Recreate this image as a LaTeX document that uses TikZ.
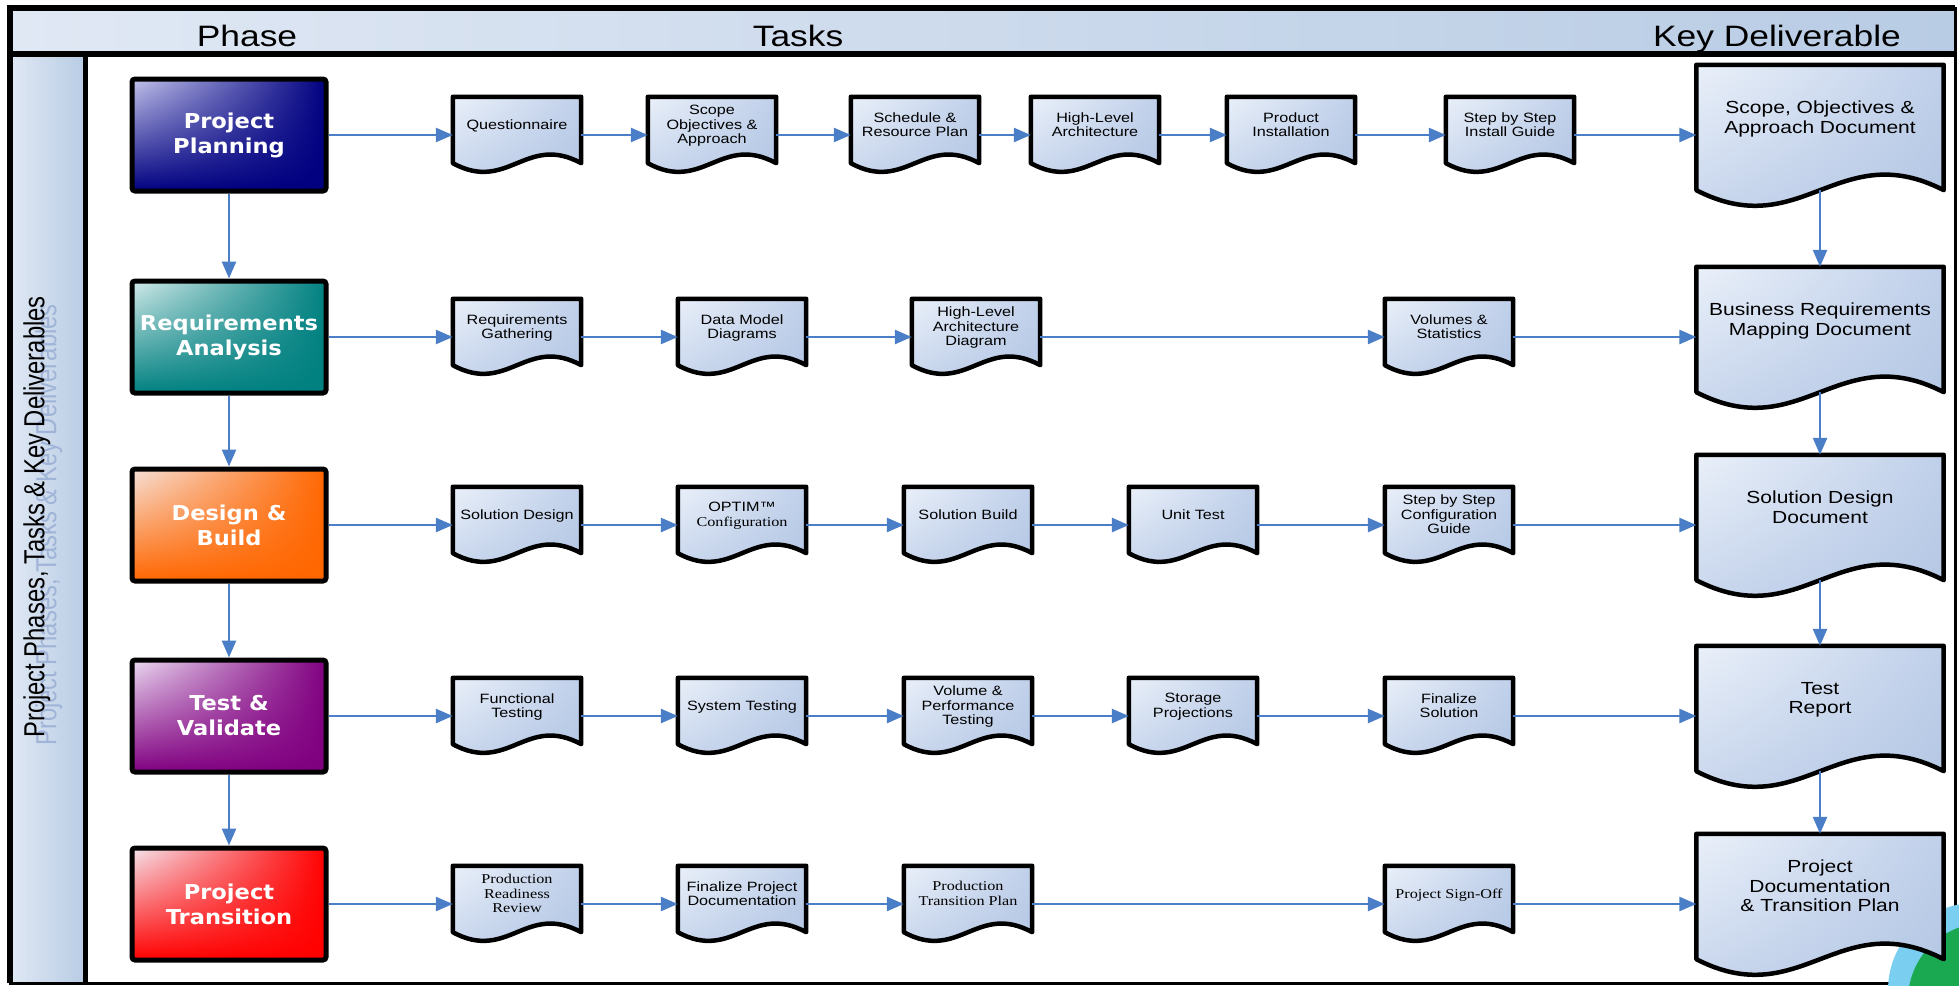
\documentclass[tikz,border=0pt]{standalone}
\usepackage{fontspec}
\setmainfont{Liberation Sans}[FakeStretch=1.2]
\newfontfamily\phasefont{DejaVu Sans}[FakeStretch=1.1]
\newfontfamily\narrowfont{Liberation Sans}[FakeStretch=0.82]
\newfontfamily\timesfont{Liberation Serif}[FakeStretch=1.2]
\usetikzlibrary{arrows.meta,shadings,backgrounds}

\definecolor{arrowblue}{RGB}{74,126,199}
\definecolor{bandA}{RGB}{224,232,244}
\definecolor{bandB}{RGB}{184,204,228}
\definecolor{docA}{RGB}{234,240,249}
\definecolor{docB}{RGB}{192,208,234}
\definecolor{docC}{RGB}{176,196,226}
\definecolor{ghostblue}{RGB}{160,180,216}
\definecolor{planA}{RGB}{196,196,236}
\definecolor{planB}{RGB}{0,0,128}
\definecolor{reqA}{RGB}{212,234,234}
\definecolor{reqB}{RGB}{0,128,128}
\definecolor{buildA}{RGB}{246,226,218}
\definecolor{buildB}{RGB}{255,102,0}
\definecolor{testA}{RGB}{236,220,242}
\definecolor{testB}{RGB}{128,0,128}
\definecolor{transA}{RGB}{244,230,238}
\definecolor{transB}{RGB}{255,0,0}
\definecolor{logoblue}{RGB}{122,206,240}
\definecolor{logogreen}{RGB}{26,168,80}

\begin{document}
\begin{tikzpicture}[x=1pt, y=-1pt,
  every node/.style={font=\fontsize{13.5}{14.5}\selectfont},
  phase/.style={draw=black, line width=5pt, rounded corners=3pt, minimum width=194pt, minimum height=112pt, align=center, text=white, font=\phasefont\bfseries\fontsize{20.5}{25}\selectfont},
  phasecol/.style 2 args={upper left=#1, upper right=#2, lower left=#2, lower right=#2},
  task/.style={minimum width=128pt, minimum height=76pt, inner sep=1pt, align=center, text depth=21pt},
  deliv/.style={minimum width=247pt, minimum height=140pt, inner sep=1pt, align=center, text depth=36pt, font=\fontsize{17.5}{19.5}\selectfont},
  docline/.style={draw=black, line width=4.5pt, line join=round, upper left=docA, upper right=docB, lower left=docB, lower right=docC},
  header/.style={anchor=base, font=\fontsize{29.5}{32}\selectfont},
  sidetext/.style={rotate=90, font=\narrowfont\fontsize{29}{32}\selectfont},
  arrow/.style={-{Triangle[length=17pt,width=14pt]}, line width=2.6pt, draw=arrowblue}
]
\useasboundingbox (0,0) rectangle (1959,985);

% frame, header band and side column
\begin{scope}[on background layer]
  \fill[left color=bandA, right color=bandB] (10,8) rectangle (1955,54);
  \fill[left color=bandA, right color=bandB] (10,54) rectangle (85,983);
  \draw[line width=3pt] (10,8) rectangle (1955,983);
  \draw[line width=6pt] (8,8) -- (1955,8);
  \draw[line width=6pt] (10,5) -- (10,983);
  \draw[line width=6pt] (10,54) -- (1955,54);
  \draw[line width=5pt] (85,54) -- (85,983);
  \clip (0,0) rectangle (1959,985);
  \fill[logoblue] (1975,990) circle (87);
  \fill[logogreen] (1985,1000) circle (77);
\end{scope}

\node[header] (hphase) at (247,46) {Phase};
\node[header] (htasks) at (798,46) {Tasks};
\node[header] (hdeliv) at (1777,46) {Key Deliverable};
\node[sidetext, text=ghostblue] (sideghost) at (49,525) {Project Phases, Tasks \& Key Deliverables};
\node[sidetext] (sidetitle) at (37,517) {Project Phases, Tasks \& Key Deliverables};

% phases
\node[phase, phasecol={planA}{planB}] (planning) at (229,135) {Project\\Planning};
\node[phase, phasecol={reqA}{reqB}] (reqs) at (229,337) {Requirements\\Analysis};
\node[phase, phasecol={buildA}{buildB}] (design) at (229,525) {Design \&\\Build};
\node[phase, phasecol={testA}{testB}] (testing) at (229,716) {Test \&\\Validate};
\node[phase, phasecol={transA}{transB}] (transition) at (229,904) {Project\\Transition};

% row 1
\node[task] (quest) at (517,135) {Questionnaire};
\node[task] (scope) at (712,135) {Scope\\Objectives \&\\Approach};
\node[task] (sched) at (915,135) {Schedule \&\\Resource Plan};
\node[task] (arch) at (1095,135) {High-Level\\Architecture};
\node[task] (install) at (1291,135) {Product\\Installation};
\node[task] (instguide) at (1510,135) {Step by Step\\Install Guide};
\node[deliv] (scopedoc) at (1820,135) {Scope, Objectives \&\\Approach Document};

% row 2
\node[task] (gather) at (517,337) {Requirements\\Gathering};
\node[task] (datamodel) at (742,337) {Data Model\\Diagrams};
\node[task] (archdiag) at (976,337) {High-Level\\Architecture\\Diagram};
\node[task] (volumes) at (1449,337) {Volumes \&\\Statistics};
\node[deliv] (bizdoc) at (1820,337) {Business Requirements\\Mapping Document};

% row 3
\node[task] (soldesign) at (517,525) {Solution Design};
\node[task] (optim) at (742,525) {OPTIM™\\{\timesfont Configuration}};
\node[task] (solbuild) at (968,525) {Solution Build};
\node[task] (unittest) at (1193,525) {Unit Test};
\node[task] (confguide) at (1449,525) {Step by Step\\Configuration\\Guide};
\node[deliv] (designdoc) at (1820,525) {Solution Design\\Document};

% row 4
\node[task] (functest) at (517,716) {Functional\\Testing};
\node[task] (systest) at (742,716) {System Testing};
\node[task] (perftest) at (968,716) {Volume \&\\Performance\\Testing};
\node[task] (storage) at (1193,716) {Storage\\Projections};
\node[task] (finalize) at (1449,716) {Finalize\\Solution};
\node[deliv] (testreport) at (1820,716) {Test\\Report};

% row 5
\node[task, font=\timesfont\fontsize{13.5}{14.5}\selectfont] (readiness) at (517,904) {Production\\Readiness\\Review};
\node[task] (projdoc) at (742,904) {Finalize Project\\Documentation};
\node[task, font=\timesfont\fontsize{13.5}{14.5}\selectfont] (transplan) at (968,904) {Production\\Transition Plan};
\node[task, font=\timesfont\fontsize{13.5}{14.5}\selectfont] (signoff) at (1449,904) {Project Sign-Off};
\node[deliv] (transdoc) at (1820,904) {Project\\Documentation\\\& Transition Plan};

% document outlines behind the texts
\begin{scope}[on background layer]
\foreach \n in {quest,scope,sched,arch,install,instguide,gather,datamodel,archdiag,volumes,soldesign,optim,solbuild,unittest,confguide,functest,systest,perftest,storage,finalize,readiness,projdoc,transplan,signoff}
  \draw[docline] (\n.north west) -- (\n.north east) -- ([yshift=10pt]\n.south east)
    .. controls +(-55pt,30pt) and +(55pt,-30pt) .. ([yshift=10pt]\n.south west) -- cycle;
\foreach \n in {scopedoc,bizdoc,designdoc,testreport,transdoc}
  \draw[docline] (\n.north west) -- (\n.north east) -- ([yshift=15pt]\n.south east)
    .. controls +(-105pt,54pt) and +(105pt,-54pt) .. ([yshift=15pt]\n.south west) -- cycle;
\end{scope}

\draw[arrow] (planning) -- (reqs);
\draw[arrow] (reqs) -- (design);
\draw[arrow] (design) -- (testing);
\draw[arrow] (testing) -- (transition);
\draw[arrow, shorten <=-15pt] (scopedoc) -- (bizdoc);
\draw[arrow, shorten <=-15pt] (bizdoc) -- (designdoc);
\draw[arrow, shorten <=-15pt] (designdoc) -- (testreport);
\draw[arrow, shorten <=-15pt] (testreport) -- (transdoc);

\draw[arrow] (planning) -- (quest);
\draw[arrow] (quest) -- (scope);
\draw[arrow] (scope) -- (sched);
\draw[arrow] (sched) -- (arch);
\draw[arrow] (arch) -- (install);
\draw[arrow] (install) -- (instguide);
\draw[arrow] (instguide) -- (scopedoc);

\draw[arrow] (reqs) -- (gather);
\draw[arrow] (gather) -- (datamodel);
\draw[arrow] (datamodel) -- (archdiag);
\draw[arrow] (archdiag) -- (volumes);
\draw[arrow] (volumes) -- (bizdoc);

\draw[arrow] (design) -- (soldesign);
\draw[arrow] (soldesign) -- (optim);
\draw[arrow] (optim) -- (solbuild);
\draw[arrow] (solbuild) -- (unittest);
\draw[arrow] (unittest) -- (confguide);
\draw[arrow] (confguide) -- (designdoc);

\draw[arrow] (testing) -- (functest);
\draw[arrow] (functest) -- (systest);
\draw[arrow] (systest) -- (perftest);
\draw[arrow] (perftest) -- (storage);
\draw[arrow] (storage) -- (finalize);
\draw[arrow] (finalize) -- (testreport);

\draw[arrow] (transition) -- (readiness);
\draw[arrow] (readiness) -- (projdoc);
\draw[arrow] (projdoc) -- (transplan);
\draw[arrow] (transplan) -- (signoff);
\draw[arrow] (signoff) -- (transdoc);
\end{tikzpicture}
\end{document}
